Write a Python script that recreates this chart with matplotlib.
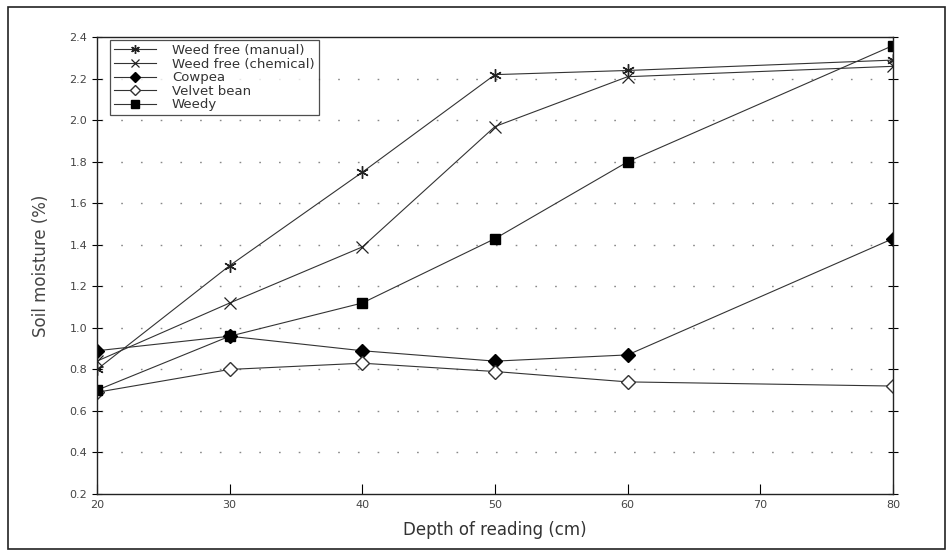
import matplotlib.pyplot as plt
from matplotlib.patches import Rectangle

depth = [20, 30, 40, 50, 60, 80]

weed_free_manual = [0.80, 1.30, 1.75, 2.22, 2.24, 2.29]
weed_free_chemical = [0.84, 1.12, 1.39, 1.97, 2.21, 2.26]
cowpea = [0.89, 0.96, 0.89, 0.84, 0.87, 1.43]
velvet_bean = [0.69, 0.80, 0.83, 0.79, 0.74, 0.72]
weedy = [0.70, 0.96, 1.12, 1.43, 1.80, 2.36]

x_ticks = [20, 30, 40, 50, 60, 70, 80]
y_ticks = [0.2, 0.4, 0.6, 0.8, 1.0, 1.2, 1.4, 1.6, 1.8, 2.0, 2.2, 2.4]

fig = plt.figure(figsize=(9.51, 5.56), dpi=100)
ax = fig.add_axes([0.102, 0.1115, 0.837, 0.8215])

# outer frame round the whole figure
fig.patches.append(Rectangle((0.008, 0.012), 0.986, 0.975, transform=fig.transFigure,
                             fill=False, edgecolor='#222222', linewidth=1.2))

line_kw = dict(color='#333333', linewidth=0.8)
ax.plot(depth, weed_free_manual, marker=(6, 2, 0), markersize=9, markeredgewidth=1.0,
        markeredgecolor='#222222', label='Weed free (manual)', **line_kw)
ax.plot(depth, weed_free_chemical, marker='x', markersize=8, markeredgewidth=0.9,
        markeredgecolor='#222222', label='Weed free (chemical)', **line_kw)
ax.plot(depth, cowpea, marker='D', markersize=7.5, markerfacecolor='black',
        markeredgecolor='black', label='Cowpea', **line_kw)
ax.plot(depth, velvet_bean, marker='D', markersize=7.5, markerfacecolor='white',
        markeredgecolor='#333333', markeredgewidth=1.0, label='Velvet bean', **line_kw)
ax.plot(depth, weedy, marker='s', markersize=7.5, markerfacecolor='black',
        markeredgecolor='black', label='Weedy', **line_kw)

ax.set_xlim(20, 80)
ax.set_ylim(0.2, 2.4)
ax.set_xticks(x_ticks)
ax.set_yticks(y_ticks)
ax.set_yticklabels([f'{v:.1f}' for v in y_ticks])

# sparse dotted grid
for v in y_ticks[1:-1]:
    ax.axhline(v, xmin=0.005, xmax=0.98, color='#888888', linewidth=1.0,
               linestyle=(0, (1.2, 13)), zorder=0)

for side in ax.spines.values():
    side.set_linewidth(1.0)
    side.set_color('#222222')

ax.tick_params(axis='y', direction='inout', length=7, width=0.8, labelsize=8,
               labelcolor='#444444', right=True)
ax.tick_params(axis='x', direction='in', length=7, width=0.8, labelsize=8,
               labelcolor='#444444', pad=4)

ax.set_xlabel('Depth of reading (cm)', fontsize=12, color='#333333', labelpad=8)
ax.set_ylabel('Soil moisture (%)', fontsize=12, color='#444444', labelpad=14)

leg = ax.legend(loc='upper left', bbox_to_anchor=(0.013, 1.0), fontsize=9.5,
                frameon=True, fancybox=False, borderpad=0.3, labelspacing=0.05,
                handlelength=3.2, handletextpad=1.2, markerscale=0.7,
                borderaxespad=0.2)
leg.get_frame().set_edgecolor('#222222')
leg.get_frame().set_linewidth(0.9)
for t in leg.get_texts():
    t.set_color('#333333')

fig.savefig('out.png', dpi=100)
